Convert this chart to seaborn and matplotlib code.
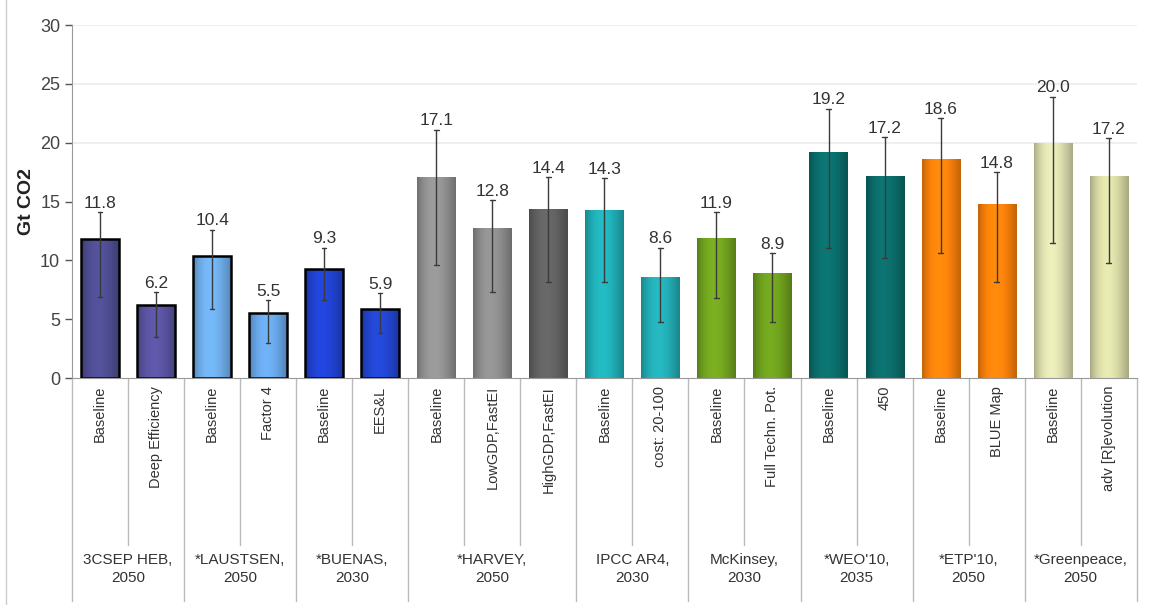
import numpy as np
import pandas as pd
import seaborn as sns
import matplotlib.pyplot as plt
import matplotlib.transforms as mtransforms
from matplotlib.colors import to_rgb
from matplotlib.patches import Rectangle

# Données
groups = ["3CSEP HEB,\n2050", "*LAUSTSEN,\n2050", "*BUENAS,\n2030", "*HARVEY,\n2050",
          "IPCC AR4,\n2030", "McKinsey,\n2030", "*WEO'10,\n2035", "*ETP'10,\n2050",
          "*Greenpeace,\n2050"]
group_sizes = [2, 2, 2, 3, 2, 2, 2, 2, 2]
scenarios = ["Baseline", "Deep Efficiency", "Baseline", "Factor 4", "Baseline", "EES&L",
             "Baseline", "LowGDP,FastEI", "HighGDP,FastEI", "Baseline", "cost: 20-100",
             "Baseline", "Full Techn. Pot.", "Baseline", "450", "Baseline", "BLUE Map",
             "Baseline", "adv [R]evolution"]
values = [11.8, 6.2, 10.4, 5.5, 9.3, 5.9, 17.1, 12.8, 14.4, 14.3, 8.6,
          11.9, 8.9, 19.2, 17.2, 18.6, 14.8, 20.0, 17.2]
err_high = [14.1, 7.3, 12.6, 6.6, 11.1, 7.2, 21.1, 15.1, 17.1, 17.0, 11.1,
            14.1, 10.6, 22.9, 20.5, 22.1, 17.5, 23.9, 20.4]
err_low = [6.9, 3.5, 5.9, 3.0, 6.6, 3.8, 9.6, 7.3, 8.2, 8.2, 4.8,
           6.8, 4.8, 11.1, 10.2, 10.6, 8.2, 11.5, 9.8]
colors = ["#4b4a8c", "#56509a", "#6aa6e0", "#64a0de", "#1f3fc8", "#2142c6",
          "#8c8c8c", "#888888", "#5e5e5e", "#1fa8b0", "#22a6ae",
          "#6e9e1e", "#6a9a1c", "#0a6a68", "#0b6866", "#f07c0a", "#f07c0a",
          "#d4d6a8", "#d0d2a0"]
outlined = 6  # les 6 premières barres ont un contour noir

group_of = [g for g, n in zip(groups, group_sizes) for _ in range(n)]
df = pd.DataFrame({
    "key": [f"{g}|{s}|{i}" for i, (g, s) in enumerate(zip(group_of, scenarios))],
    "value": values,
})

sns.set_style("white")
plt.rcParams['font.family'] = ['Liberation Sans', 'DejaVu Sans']

fig = plt.figure(figsize=(11.51, 6.05), dpi=100)
ax = fig.add_axes([0.0626, 0.375, 0.925, 0.5835])

sns.barplot(data=df, x="key", y="value", hue="key", palette=colors, legend=False,
            width=0.68, saturation=1, ax=ax, zorder=2)

# léger dégradé horizontal dans chaque barre (effet Excel)
t = np.linspace(0, 1, 60)
shade = 0.8 + 0.32 * np.sin(np.pi * t ** 0.85)
bars = list(ax.patches)
for i, (p, c) in enumerate(zip(bars, colors)):
    p.set_linewidth(0)
    rgb = np.array(to_rgb(c))
    img = np.clip(rgb[None, :] * shade[:, None], 0, 1)[None, :, :]
    x0, y0, w, h = p.get_x(), p.get_y(), p.get_width(), p.get_height()
    im = ax.imshow(img, extent=[x0, x0 + w, y0, y0 + h], aspect="auto",
                   interpolation="bilinear", zorder=2.1)
    im.set_clip_path(p)
    if i < outlined:
        ax.add_patch(Rectangle((x0, y0), w, h, fill=False, ec="black",
                               lw=1.8, zorder=2.5))

# barres d'erreur et étiquettes
xs = [p.get_x() + p.get_width() / 2 for p in bars]
for x, v, lo, hi in zip(xs, values, err_low, err_high):
    ax.plot([x, x], [lo, hi], color="#3a3a3a", lw=1, zorder=3)
    ax.plot([x - 0.04, x + 0.04], [hi, hi], color="#3a3a3a", lw=1, zorder=3)
    ax.plot([x - 0.04, x + 0.04], [lo, lo], color="#3a3a3a", lw=1, zorder=3)
    ax.annotate(f"{v:.1f}", (x, hi), xytext=(0, 1), textcoords="offset points",
                ha="center", va="bottom", fontsize=12.5, color="#333333")

for y in [20, 25, 30]:
    ax.axhline(y, color="#ececec", lw=1.2, zorder=0)

ax.set_ylim(0, 30)
ax.set_xlim(-0.5, len(values) - 0.5)
ax.set_yticks(range(0, 31, 5))
ax.tick_params(axis="y", labelsize=13, colors="#555555", labelcolor="#444444",
               length=5, width=1, left=True)
ax.tick_params(axis="x", bottom=False, labelbottom=False)
ax.set_xlabel("")
ax.set_ylabel("Gt CO2", fontsize=14, fontweight="bold", color="#222222", labelpad=4)
for s in ["top", "right"]:
    ax.spines[s].set_visible(False)
ax.spines["left"].set_color("#999999")
ax.spines["bottom"].set_color("#999999")

# tableau des catégories sous l'axe
trans = mtransforms.blended_transform_factory(ax.transData, ax.transAxes)
for x, s in zip(xs, scenarios):
    ax.text(x, -0.022, s, rotation=90, ha="center", va="top", fontsize=10.5,
            color="#333333", transform=trans)

start = 0
bounds = [-0.5]
for g, n in zip(groups, group_sizes):
    for k in range(1, n):
        xb = start + k - 0.5
        ax.plot([xb, xb], [0, -0.473], color="#bbbbbb", lw=1,
                transform=trans, clip_on=False)
    center = start + (n - 1) / 2
    ax.text(center, -0.54, g, ha="center", va="center", fontsize=11,
            color="#333333", linespacing=1.35, transform=trans)
    start += n
    bounds.append(start - 0.5)
for xb in bounds:
    ax.plot([xb, xb], [0, -0.63], color="#bbbbbb", lw=1,
            transform=trans, clip_on=False)

fig.add_artist(plt.Line2D([0.005, 0.005], [0.0, 1.0], color="#cccccc", lw=1))

fig.savefig("out.png", dpi=100)
